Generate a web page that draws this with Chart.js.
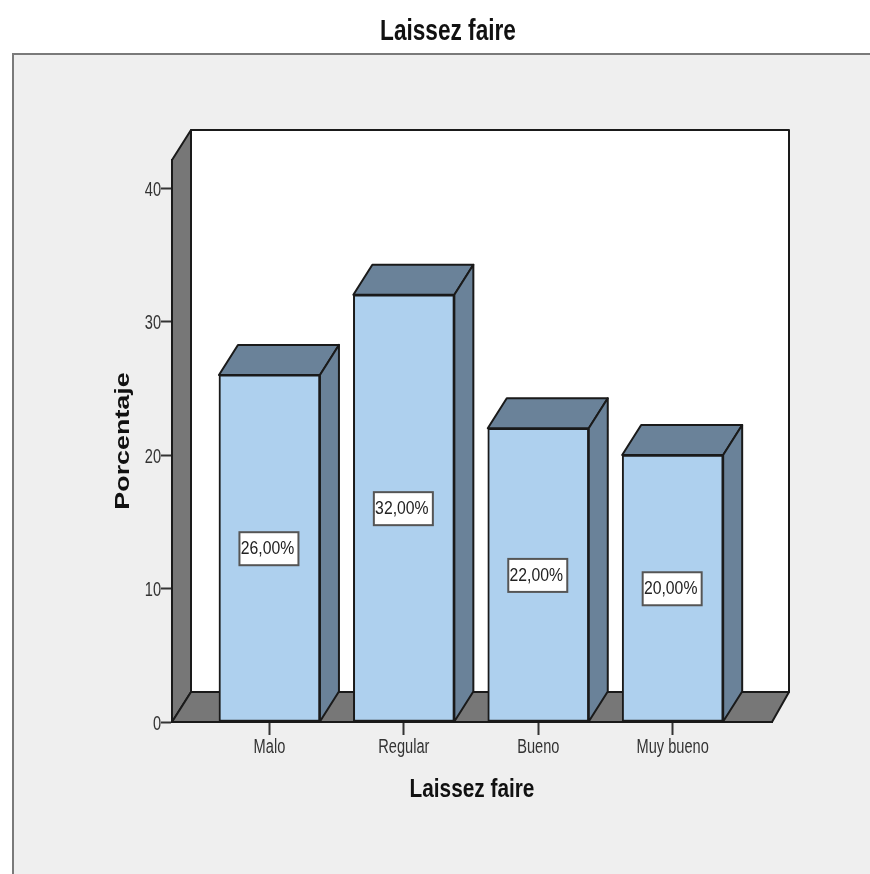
<!DOCTYPE html>
<html>
<head>
<meta charset="utf-8">
<title>Laissez faire</title>
<script src="https://cdn.jsdelivr.net/npm/chart.js@4"></script>
<style>
  html, body { margin: 0; padding: 0; background: #fff; }
  canvas { display: block; }
</style>
</head>
<body>
<canvas id="barChart" width="870" height="874"></canvas>
<script>
const categories = ["Malo", "Regular", "Bueno", "Muy bueno"];
const percentages = [26, 32, 22, 20];
const yTicks = [0, 10, 20, 30, 40];

const DEPTH_X = 19;
const DEPTH_Y = 30;
const SANS = "'Liberation Sans', Arial, sans-serif";
const LINE = "#1a1a1a";

// horizontal text scale per font size: the labels are set tall and narrow,
// the rotated axis title is drawn long
const TEXT_SCALE = { 19: 0.83, 20: 0.73, 21: 1.28, 26: 0.8, 29: 0.78 };

function poly(ctx, pts, fill) {
  ctx.beginPath();
  pts.forEach((p, i) => (i ? ctx.lineTo(p[0], p[1]) : ctx.moveTo(p[0], p[1])));
  ctx.closePath();
  ctx.fillStyle = fill;
  ctx.fill();
  ctx.stroke();
}

const textScale = {
  id: "textScale",
  beforeInit(chart) {
    const ctx = chart.ctx;
    const fill = ctx.fillText.bind(ctx);
    ctx.fillText = (text, x, y) => {
      const size = parseInt(ctx.font.match(/(\d+)px/)[1], 10);
      ctx.save();
      // right-aligned y tick labels sit slightly under their tick marks
      ctx.translate(x, ctx.textAlign === "right" ? y + 2 : y);
      ctx.scale(TEXT_SCALE[size] || 1, 1);
      fill(text, 0, 0);
      ctx.restore();
    };
  }
};

// grey panel behind the plot, open on the right and at the bottom
const panel = {
  id: "panel",
  beforeDraw(chart) {
    const ctx = chart.ctx;
    ctx.save();
    ctx.fillStyle = "#efefef";
    ctx.fillRect(12, 54, chart.width - 12, chart.height - 54);
    ctx.strokeStyle = "#7a7a7a";
    ctx.lineWidth = 2;
    ctx.beginPath();
    ctx.moveTo(13, chart.height);
    ctx.lineTo(13, 54);
    ctx.lineTo(chart.width, 54);
    ctx.stroke();
    ctx.restore();
  }
};

// back wall, side wall and floor of the 3D box
const box3d = {
  id: "box3d",
  afterLayout(chart) {
    chart.titleBlock.left = 124;
  },
  beforeDatasetsDraw(chart) {
    const { left, right, top, bottom } = chart.chartArea;
    const ctx = chart.ctx;
    ctx.save();
    ctx.strokeStyle = LINE;
    ctx.lineWidth = 2;
    ctx.lineJoin = "round";
    poly(ctx, [[left + DEPTH_X, top - DEPTH_Y], [right + DEPTH_X - 2, top - DEPTH_Y], [right + DEPTH_X - 2, bottom - DEPTH_Y], [left + DEPTH_X, bottom - DEPTH_Y]], "#ffffff");
    poly(ctx, [[left, top], [left + DEPTH_X, top - DEPTH_Y], [left + DEPTH_X, bottom - DEPTH_Y], [left, bottom]], "#777777");
    poly(ctx, [[left, bottom], [left + DEPTH_X, bottom - DEPTH_Y], [right + DEPTH_X - 2, bottom - DEPTH_Y], [right, bottom]], "#777777");

    // top and side faces of each bar
    chart.getDatasetMeta(0).data.forEach(bar => {
      const l = bar.x - bar.width / 2;
      const r = bar.x + bar.width / 2;
      poly(ctx, [[l, bar.y], [l + DEPTH_X, bar.y - DEPTH_Y], [r + DEPTH_X, bar.y - DEPTH_Y], [r, bar.y]], "#6a8299");
      poly(ctx, [[r, bar.y], [r + DEPTH_X, bar.y - DEPTH_Y], [r + DEPTH_X, bar.base - DEPTH_Y], [r, bar.base]], "#6a8299");
    });
    ctx.restore();
  },
  afterDatasetsDraw(chart) {
    const ctx = chart.ctx;
    ctx.save();
    ctx.font = "19px " + SANS;
    ctx.textAlign = "center";
    ctx.textBaseline = "middle";
    chart.getDatasetMeta(0).data.forEach((bar, i) => {
      const cy = (bar.y + bar.base) / 2;
      ctx.fillStyle = "#ffffff";
      ctx.strokeStyle = "#555555";
      ctx.lineWidth = 2;
      ctx.fillRect(bar.x - 30, cy - 16, 59, 33);
      ctx.strokeRect(bar.x - 30, cy - 16, 59, 33);
      ctx.fillStyle = "#222222";
      ctx.fillText(percentages[i].toFixed(2).replace(".", ",") + "%", bar.x - 2, cy + 1);
    });
    ctx.restore();
  }
};

new Chart(document.getElementById("barChart"), {
  type: "bar",
  data: {
    datasets: [{
      data: percentages.map((v, i) => ({ x: i, y: v })),
      backgroundColor: "#aed0ee",
      borderColor: LINE,
      borderWidth: 2,
      borderSkipped: false,
      barThickness: 101
    }]
  },
  options: {
    responsive: false,
    animation: false,
    layout: { padding: { left: 0, right: 98, top: 0, bottom: 0 } },
    plugins: {
      legend: { display: false },
      tooltip: { enabled: false },
      title: {
        display: true,
        text: "Laissez faire",
        color: "#111111",
        font: { family: SANS, size: 29, weight: "bold" },
        padding: { top: 14.6, bottom: 110.6 }
      }
    },
    scales: {
      x: {
        type: "linear",
        offset: false,
        min: -0.725,
        max: 3.739,
        afterBuildTicks: axis => { axis.ticks = categories.map((c, i) => ({ value: i })); },
        afterFit: axis => { axis.height = 152; },
        ticks: {
          callback: v => categories[v],
          color: "#333333",
          font: { family: SANS, size: 20 },
          maxRotation: 0,
          autoSkip: false,
          padding: 0
        },
        grid: { offset: false, drawOnChartArea: false, tickLength: 13, tickColor: "#333333", tickWidth: 2 },
        border: { color: LINE, width: 2 },
        title: {
          display: true,
          text: "Laissez faire",
          color: "#111111",
          font: { family: SANS, size: 26, weight: "bold" },
          padding: { top: 0, bottom: 69 }
        }
      },
      y: {
        min: 0,
        max: 42.1,
        afterBuildTicks: axis => { axis.ticks = yTicks.map(v => ({ value: v })); },
        afterFit: axis => { axis.width = 172; },
        ticks: {
          color: "#333333",
          font: { family: SANS, size: 20 },
          padding: 0
        },
        grid: { drawOnChartArea: false, tickLength: 11, tickColor: "#333333", tickWidth: 2 },
        border: { color: LINE, width: 2 },
        title: {
          display: true,
          text: "Porcentaje",
          color: "#111111",
          font: { family: SANS, size: 21, weight: "bold" },
          padding: { top: 111, bottom: 0 }
        }
      }
    }
  },
  plugins: [textScale, panel, box3d]
});
</script>
</body>
</html>
